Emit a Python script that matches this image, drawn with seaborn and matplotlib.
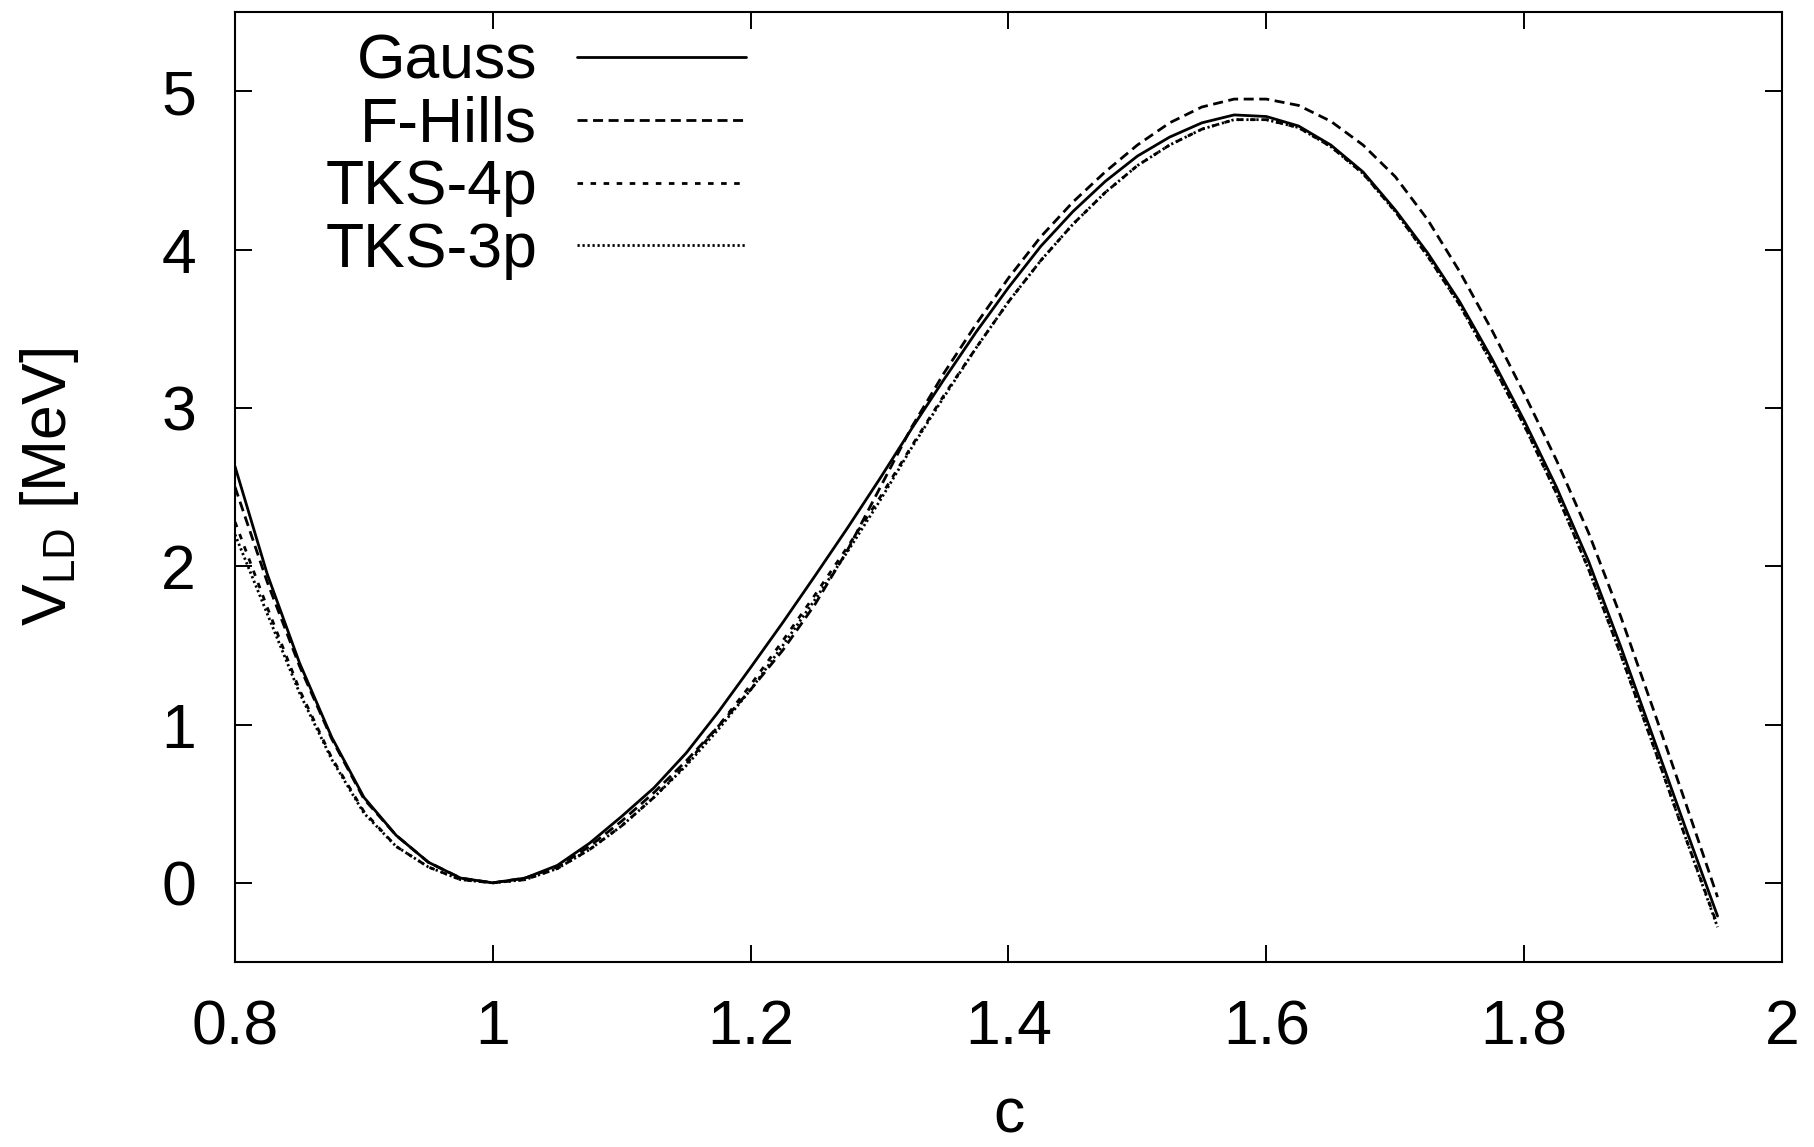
import numpy as np
import pandas as pd
import matplotlib
matplotlib.use("Agg")
import matplotlib.pyplot as plt
import seaborn as sns

# Deformation parameter c
c = [0.800, 0.825, 0.850, 0.875, 0.900, 0.925, 0.950, 0.975, 1.000, 1.025,
     1.050, 1.075, 1.100, 1.125, 1.150, 1.175, 1.200, 1.225, 1.250, 1.275,
     1.300, 1.325, 1.350, 1.375, 1.400, 1.425, 1.450, 1.475, 1.500, 1.525,
     1.550, 1.575, 1.600, 1.625, 1.650, 1.675, 1.700, 1.725, 1.750, 1.775,
     1.800, 1.825, 1.850, 1.875, 1.900, 1.925, 1.950]

# Liquid-drop deformation energy V_LD [MeV] for each folding prescription
v_gauss = [2.63, 1.95, 1.39, 0.92, 0.54, 0.30, 0.13, 0.03, 0.00, 0.03,
           0.11, 0.25, 0.42, 0.60, 0.82, 1.08, 1.36, 1.645, 1.94, 2.24,
           2.55, 2.87, 3.18, 3.48, 3.76, 4.02, 4.24, 4.43, 4.59, 4.71,
           4.80, 4.85, 4.84, 4.78, 4.66, 4.49, 4.25, 3.98, 3.67, 3.31,
           2.92, 2.50, 2.03, 1.49, 0.92, 0.35, -0.21]

v_fhills = [2.50, 1.90, 1.37, 0.91, 0.53, 0.30, 0.13, 0.03, 0.00, 0.03,
            0.10, 0.23, 0.39, 0.57, 0.77, 0.99, 1.22, 1.47, 1.76, 2.10,
            2.49, 2.88, 3.22, 3.53, 3.82, 4.08, 4.30, 4.49, 4.66, 4.80,
            4.90, 4.95, 4.95, 4.91, 4.81, 4.66, 4.46, 4.19, 3.86, 3.49,
            3.09, 2.67, 2.21, 1.68, 1.10, 0.51, -0.09]

v_tks4p = [2.28, 1.74, 1.22, 0.79, 0.45, 0.23, 0.10, 0.02, 0.00, 0.02,
           0.09, 0.21, 0.36, 0.54, 0.75, 0.99, 1.25, 1.53, 1.82, 2.12,
           2.43, 2.76, 3.08, 3.38, 3.67, 3.93, 4.16, 4.36, 4.53, 4.66,
           4.76, 4.82, 4.82, 4.77, 4.65, 4.48, 4.24, 3.96, 3.65, 3.28,
           2.89, 2.46, 1.98, 1.44, 0.87, 0.29, -0.27]

v_tks3p = [2.20, 1.70, 1.20, 0.78, 0.44, 0.23, 0.10, 0.02, 0.00, 0.02,
           0.09, 0.21, 0.36, 0.54, 0.74, 0.97, 1.22, 1.50, 1.79, 2.09,
           2.41, 2.75, 3.07, 3.38, 3.67, 3.93, 4.16, 4.36, 4.53, 4.66,
           4.76, 4.82, 4.82, 4.77, 4.65, 4.48, 4.24, 3.96, 3.65, 3.28,
           2.89, 2.46, 1.98, 1.44, 0.87, 0.29, -0.28]

series_names = ["Gauss", "F-Hills", "TKS-4p", "TKS-3p"]
x_ticks = [0.8, 1.0, 1.2, 1.4, 1.6, 1.8, 2.0]
x_tick_labels = ["0.8", "1", "1.2", "1.4", "1.6", "1.8", "2"]
y_ticks = [0, 1, 2, 3, 4, 5]

df = pd.concat([
    pd.DataFrame({"c": c, "V": v, "model": name})
    for name, v in zip(series_names, [v_gauss, v_fhills, v_tks4p, v_tks3p])
], ignore_index=True)

sns.set_style("ticks")
plt.rcParams["font.family"] = ["Liberation Sans", "DejaVu Sans"]
plt.rcParams["mathtext.fontset"] = "custom"
plt.rcParams["mathtext.rm"] = "Liberation Sans"
plt.rcParams["mathtext.it"] = "Liberation Sans"
plt.rcParams["text.color"] = "black"
plt.rcParams["axes.labelcolor"] = "black"
plt.rcParams["xtick.color"] = "black"
plt.rcParams["ytick.color"] = "black"
plt.rcParams["lines.solid_joinstyle"] = "round"
plt.rcParams["lines.dash_joinstyle"] = "round"

FS = 45
LW = 2.0

fig = plt.figure(figsize=(18.14, 11.47), dpi=100)
ax = fig.add_axes([235 / 1814, 1 - 962 / 1147, (1782 - 235) / 1814, (962 - 12) / 1147])

dash_map = {
    "Gauss": "",
    "F-Hills": (3.6, 2.0),
    "TKS-4p": (2.0, 2.7),
    "TKS-3p": (0.8, 1.0),
}
palette = {name: "black" for name in series_names}

sns.lineplot(data=df, x="c", y="V", hue="model", style="model",
             hue_order=series_names, style_order=series_names,
             palette=palette, dashes=dash_map, linewidth=LW,
             sort=False, estimator=None, ax=ax, legend=False)

ax.set_xlim(0.8, 2.0)
ax.set_ylim(-0.5, 5.5)
ax.set_xticks(x_ticks)
ax.set_xticklabels(x_tick_labels)
ax.set_yticks(y_ticks)

for side in ["left", "right", "top", "bottom"]:
    ax.spines[side].set_visible(True)
    ax.spines[side].set_linewidth(1.5)
    ax.spines[side].set_color("black")

ax.tick_params(axis="both", which="major", direction="in", length=12, width=1.4,
               top=True, right=True, labelsize=FS, colors="black")
ax.tick_params(axis="y", pad=28)
ax.tick_params(axis="x", pad=26)

ax.set_xlabel("c", fontsize=FS, labelpad=21, color="black")
ax.set_ylabel(r"V$_{\mathrm{LD}}$ [MeV]", fontsize=FS, labelpad=58, color="black")

handles = ax.get_lines()[:4]
leg = ax.legend(handles, series_names, loc="upper right",
                bbox_to_anchor=(0.3303, 0.978), frameon=False,
                fontsize=FS, markerfirst=False, handlelength=2.7,
                handletextpad=0.64, labelspacing=0.06, borderpad=0,
                borderaxespad=0)
for t in leg.get_texts():
    t.set_color("black")

fig.savefig("out.png", dpi=100, facecolor="white")
